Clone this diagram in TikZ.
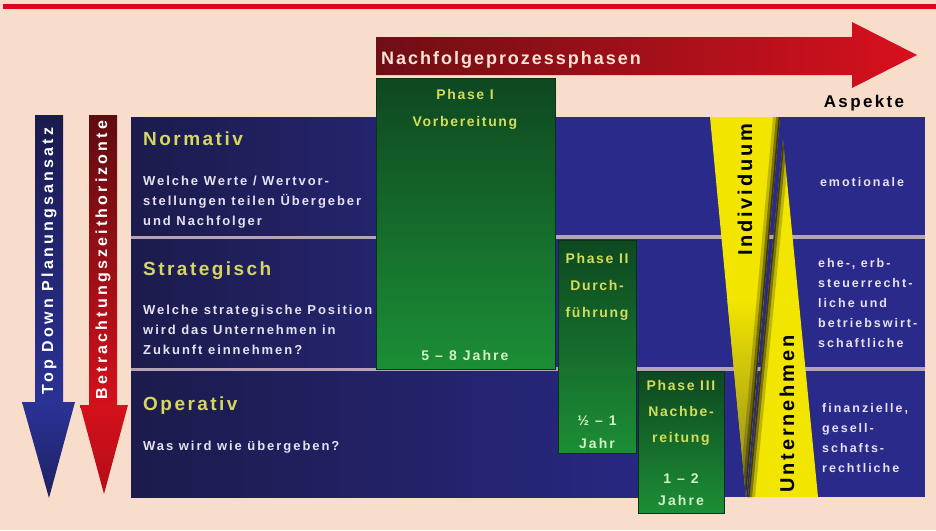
\documentclass[tikz,border=0pt]{standalone}
\usepackage{fontspec}
\setmainfont{Liberation Sans}
\definecolor{bg}{HTML}{F9DDCB}
\definecolor{topred}{HTML}{E3001B}
\definecolor{arrdark}{HTML}{6E0F14}
\definecolor{arrred}{HTML}{D8101E}
\definecolor{navy}{HTML}{1B1B4C}
\definecolor{navymid}{HTML}{24246E}
\definecolor{rowblue}{HTML}{2A2A8A}
\definecolor{sepcol}{HTML}{B7A3B6}
\definecolor{gdark}{HTML}{0E4820}
\definecolor{gbright}{HTML}{1C8E36}
\definecolor{phyellow}{HTML}{D4DC5A}
\definecolor{durcol}{HTML}{D4F0C4}
\definecolor{wyellow}{HTML}{F2E500}
\definecolor{wdark}{HTML}{2E2A10}
\definecolor{wolive}{HTML}{8A8420}
\definecolor{tyellow}{HTML}{D6D661}
\definecolor{txtwhite}{HTML}{E6E2F2}
\definecolor{bluedark}{HTML}{1A1A4E}
\definecolor{bluearr}{HTML}{2A3296}
\definecolor{reddark}{HTML}{5E0C10}
\definecolor{redarr}{HTML}{D4101C}
\tikzset{
  rowtitle/.style={anchor=base west, inner sep=0, text=tyellow,
    font=\fontsize{19}{22}\selectfont\bfseries\addfontfeature{LetterSpace=13}},
  rowtext/.style={anchor=base west, inner sep=0, align=left, text=txtwhite,
    font=\fontsize{13}{20}\selectfont\bfseries\addfontfeature{LetterSpace=15}},
  phasetext/.style={anchor=base, inner sep=0, align=center, text=phyellow,
    font=\fontsize{14}{27}\selectfont\bfseries\addfontfeature{LetterSpace=12}},
  durtext/.style={anchor=base, inner sep=0, align=center, text=durcol,
    font=\fontsize{14}{23}\selectfont\bfseries\addfontfeature{LetterSpace=15}},
  aspecttext/.style={anchor=base west, inner sep=0, align=left, text=txtwhite,
    font=\fontsize{12.5}{20}\selectfont\bfseries\addfontfeature{LetterSpace=16}},
  wedgetext/.style={inner sep=0, rotate=90, text=black,
    font=\fontsize{20}{22}\selectfont\bfseries\addfontfeature{LetterSpace=14}},
  arrowtext/.style={inner sep=0, rotate=90, text=white,
    font=\fontsize{16}{18}\selectfont\bfseries\addfontfeature{LetterSpace=20}},
  phasebox/.style={top color=gdark, bottom color=gbright, draw=gdark!70!black, line width=1pt},
}
\begin{document}
\begin{tikzpicture}[x=1pt,y=-1pt]
\useasboundingbox (0,0) rectangle (936,530);
\fill[bg] (0,0) rectangle (936,530);
% top red line
\fill[topred] (3,4) rectangle (936,9);
% process arrow
\shade[left color=arrdark, right color=arrred]
  (376,37) -- (852,37) -- (852,22) -- (917,55) -- (852,88) -- (852,75) -- (376,75) -- cycle;
\node[anchor=base west, inner sep=0, text=bg!80!white,
  font=\fontsize{18}{20}\selectfont\bfseries\addfontfeature{LetterSpace=11}] (proc) at (381,64) {Nachfolgeprozessphasen};
\node[anchor=base, inner sep=0, text=black,
  font=\fontsize{17}{20}\selectfont\bfseries\addfontfeature{LetterSpace=14}] (asp) at (864,107) {Aspekte};
% left arrows
\shade[top color=bluedark, bottom color=bluearr] (35,115) rectangle (63,403);
\shade[top color=bluearr, bottom color=bluedark!70!bluearr] (22,402) -- (75,402) -- (49,498) -- cycle;
\node[arrowtext] (topdown) at (49,261) {Top Down Planungsansatz};
\shade[top color=reddark, bottom color=redarr] (89,115) rectangle (117,406);
\shade[top color=redarr, bottom color=redarr!85!black] (80,405) -- (128,405) -- (104,494) -- cycle;
\node[arrowtext] (horiz) at (103,260) {Betrachtungszeithorizonte};
% rows
\fill[sepcol] (131,117) rectangle (925,497);
\shade[left color=navy, right color=navymid] (131,117) rectangle (376,235);
\fill[rowblue] (376,117) rectangle (925,235);
\shade[left color=navy, right color=navymid] (131,239) rectangle (376,367);
\fill[rowblue] (376,239) rectangle (925,367);
\shade[left color=navy, right color=rowblue!85!navy] (131,371) rectangle (640,497);
\fill[rowblue] (640,371) rectangle (925,497);
% row texts
\node[rowtitle] (norm) at (143,145) {Normativ};
\node[rowtext] (normq) at (143,225) {Welche Werte / Wertvor-\\stellungen teilen Übergeber\\und Nachfolger};
\node[rowtitle] (strat) at (143,275) {Strategisch};
\node[rowtext] (stratq) at (143,354) {Welche strategische Position\\wird das Unternehmen in\\Zukunft einnehmen?};
\node[rowtitle] (oper) at (143,410) {Operativ};
\node[rowtext] (operq) at (143,450) {Was wird wie übergeben?};
% phases
\fill[phasebox] (376,78) rectangle (555,369);
\node[phasetext] (p1) at (465,126) {Phase I\\Vorbereitung};
\node[durtext] (d1) at (465,360) {5 – 8 Jahre};
\fill[phasebox] (558,240) rectangle (636,453);
\node[phasetext] (p2) at (597,317) {Phase II\\Durch-\\führung};
\node[durtext] (d2) at (597,448) {½ – 1\\Jahr};
\fill[phasebox] (638,371) rectangle (724,513);
\node[phasetext, font=\fontsize{14}{26}\selectfont\bfseries\addfontfeature{LetterSpace=12}] (p3) at (681,442) {Phase III\\Nachbe-\\reitung};
\node[durtext, font=\fontsize{14}{22}\selectfont\bfseries\addfontfeature{LetterSpace=15}] (d3) at (681,505) {1 – 2\\Jahre};
% wedges
\begin{scope}
  \clip (710,117) -- (780,117) -- (746,497) -- cycle;
  \fill[wyellow] (700,110) rectangle (790,500);
  \shade[top color=wyellow, bottom color=wolive] (700,300) rectangle (790,500);
  \draw[wdark, line width=14pt, opacity=0.25] (780,117) -- (746,497);
  \draw[wdark, line width=8pt, opacity=0.45] (780,117) -- (746,497);
  \draw[wdark, line width=3pt, opacity=0.8] (780,117) -- (746,497);
\end{scope}
\begin{scope}
  \clip (783,140) -- (818,497) -- (748,497) -- cycle;
  \fill[wyellow] (740,130) rectangle (830,500);
  \draw[wdark, line width=14pt, opacity=0.25] (783,140) -- (748,497);
  \draw[wdark, line width=8pt, opacity=0.45] (783,140) -- (748,497);
  \draw[wdark, line width=3pt, opacity=0.8] (783,140) -- (748,497);
\end{scope}
\node[wedgetext] (indiv) at (745,190) {Individuum};
\node[wedgetext] (untern) at (787,414) {Unternehmen};
% aspect texts
\node[anchor=base, inner sep=0, text=txtwhite,
  font=\fontsize{12.5}{20}\selectfont\bfseries\addfontfeature{LetterSpace=16}] (emo) at (862,186) {emotionale};
\node[aspecttext] (steuer) at (818,347) {ehe-, erb-\\steuerrecht-\\liche und\\betriebswirt-\\schaftliche};
\node[aspecttext] (fin) at (822,472) {finanzielle,\\gesell-\\schafts-\\rechtliche};
\end{tikzpicture}
\end{document}
